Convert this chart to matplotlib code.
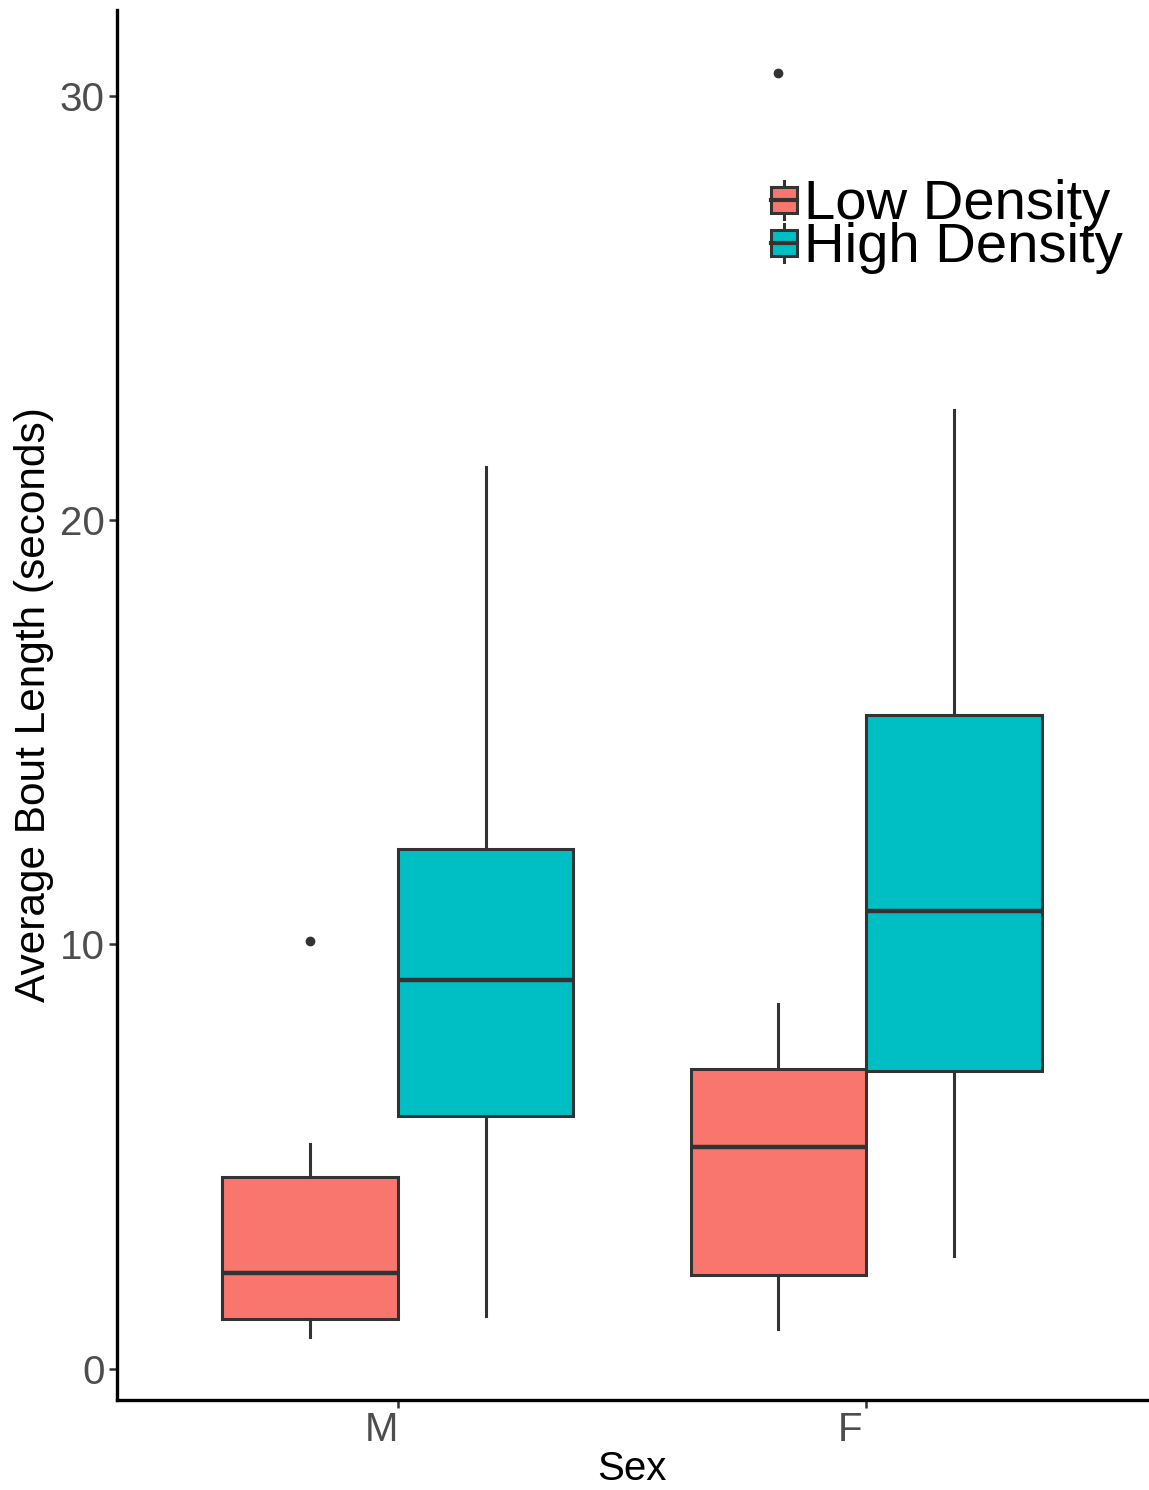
import matplotlib
matplotlib.use('Agg')
import matplotlib.pyplot as plt
import matplotlib.patches as patches
import matplotlib.transforms as mtransforms
from matplotlib.lines import Line2D

plt.rcParams['font.family'] = ['Liberation Sans', 'DejaVu Sans']

sexes = ['M', 'F']
groups = ['Low Density', 'High Density']
colors = ['#F8766D', '#00BFC4']

# box stats: [low whisker, q1, median, q3, high whisker]
low_stats = [[0.75, 1.18, 2.26, 4.52, 5.29], [0.94, 2.21, 5.22, 7.06, 8.59]]
high_stats = [[1.25, 5.95, 9.15, 12.26, 21.25], [2.66, 7.01, 10.80, 15.41, 22.59]]
low_outliers = [[10.09], [30.54]]
high_outliers = [[], []]

fig = plt.figure(figsize=(11.49, 14.9), dpi=100)
ax = fig.add_axes([117 / 1149, 90 / 1490, 1030 / 1149, 1390 / 1490])

edge = '#333333'
w = 0.375
for gi, (stats, outs) in enumerate([(low_stats, low_outliers), (high_stats, high_outliers)]):
    bxp = []
    for si in range(len(sexes)):
        s = stats[si]
        bxp.append(dict(whislo=s[0], q1=s[1], med=s[2], q3=s[3], whishi=s[4],
                        fliers=outs[si]))
    pos = [i + 1 + (gi - 0.5) * w for i in range(len(sexes))]
    ax.bxp(bxp, positions=pos, widths=w, patch_artist=True, showcaps=False,
           boxprops=dict(facecolor=colors[gi], edgecolor=edge, linewidth=2.2),
           medianprops=dict(color=edge, linewidth=3.2),
           whiskerprops=dict(color=edge, linewidth=2.2),
           flierprops=dict(marker='o', markersize=6, markerfacecolor=edge,
                           markeredgecolor=edge))

ax.set_xlim(0.4, 2.6)
ax.set_ylim(-0.74, 32.03)
ax.set_xticks([1, 2])
ax.set_xticklabels(sexes)
ax.set_yticks([0, 10, 20, 30])
ax.set_yticklabels(['0', '10', '20', '30'])
ax.tick_params(axis='both', colors='#333333', labelcolor='#4D4D4D',
               labelsize=29, length=6, width=1.8)
ax.tick_params(axis='x', pad=2)
ax.tick_params(axis='y', pad=3)
# x tick labels sit a little left of their ticks in the original
offset = mtransforms.ScaledTranslation(-16 / 100, 0, fig.dpi_scale_trans)
for lab in ax.get_xticklabels():
    lab.set_transform(lab.get_transform() + offset)

for side in ['top', 'right']:
    ax.spines[side].set_visible(False)
for side in ['left', 'bottom']:
    ax.spines[side].set_linewidth(2.4)
    ax.spines[side].set_color('black')

ax.set_xlabel('Sex', fontsize=29, color='black', labelpad=1)
ax.set_ylabel('Average Bout Length (seconds)', fontsize=30.5, color='black', labelpad=4)

# legend drawn in figure pixel coordinates
H = 1490
def px(x, y):
    return x / 1149, (H - y) / H

for gi, (cy, name) in enumerate([(200, groups[0]), (243, groups[1])]):
    x0, y0 = px(771, cy + 13)
    x1, y1 = px(797, cy - 13)
    fig.add_artist(Line2D([px(784, 0)[0]] * 2, [px(0, cy - 19)[1], px(0, cy + 19)[1]],
                          color=edge, linewidth=2.2, transform=fig.transFigure, zorder=1))
    fig.add_artist(patches.Rectangle((x0, y0), x1 - x0, y1 - y0, facecolor=colors[gi],
                                     edgecolor=edge, linewidth=2.2,
                                     transform=fig.transFigure, zorder=2))
    fig.add_artist(Line2D([x0, x1], [px(0, cy)[1]] * 2, color=edge, linewidth=3,
                          transform=fig.transFigure, zorder=3))
    tx, ty = px(804, cy + 5)
    fig.text(tx, ty, name, fontsize=40.5, color='black', ha='left', va='center')

fig.savefig('out.png', dpi=100)
